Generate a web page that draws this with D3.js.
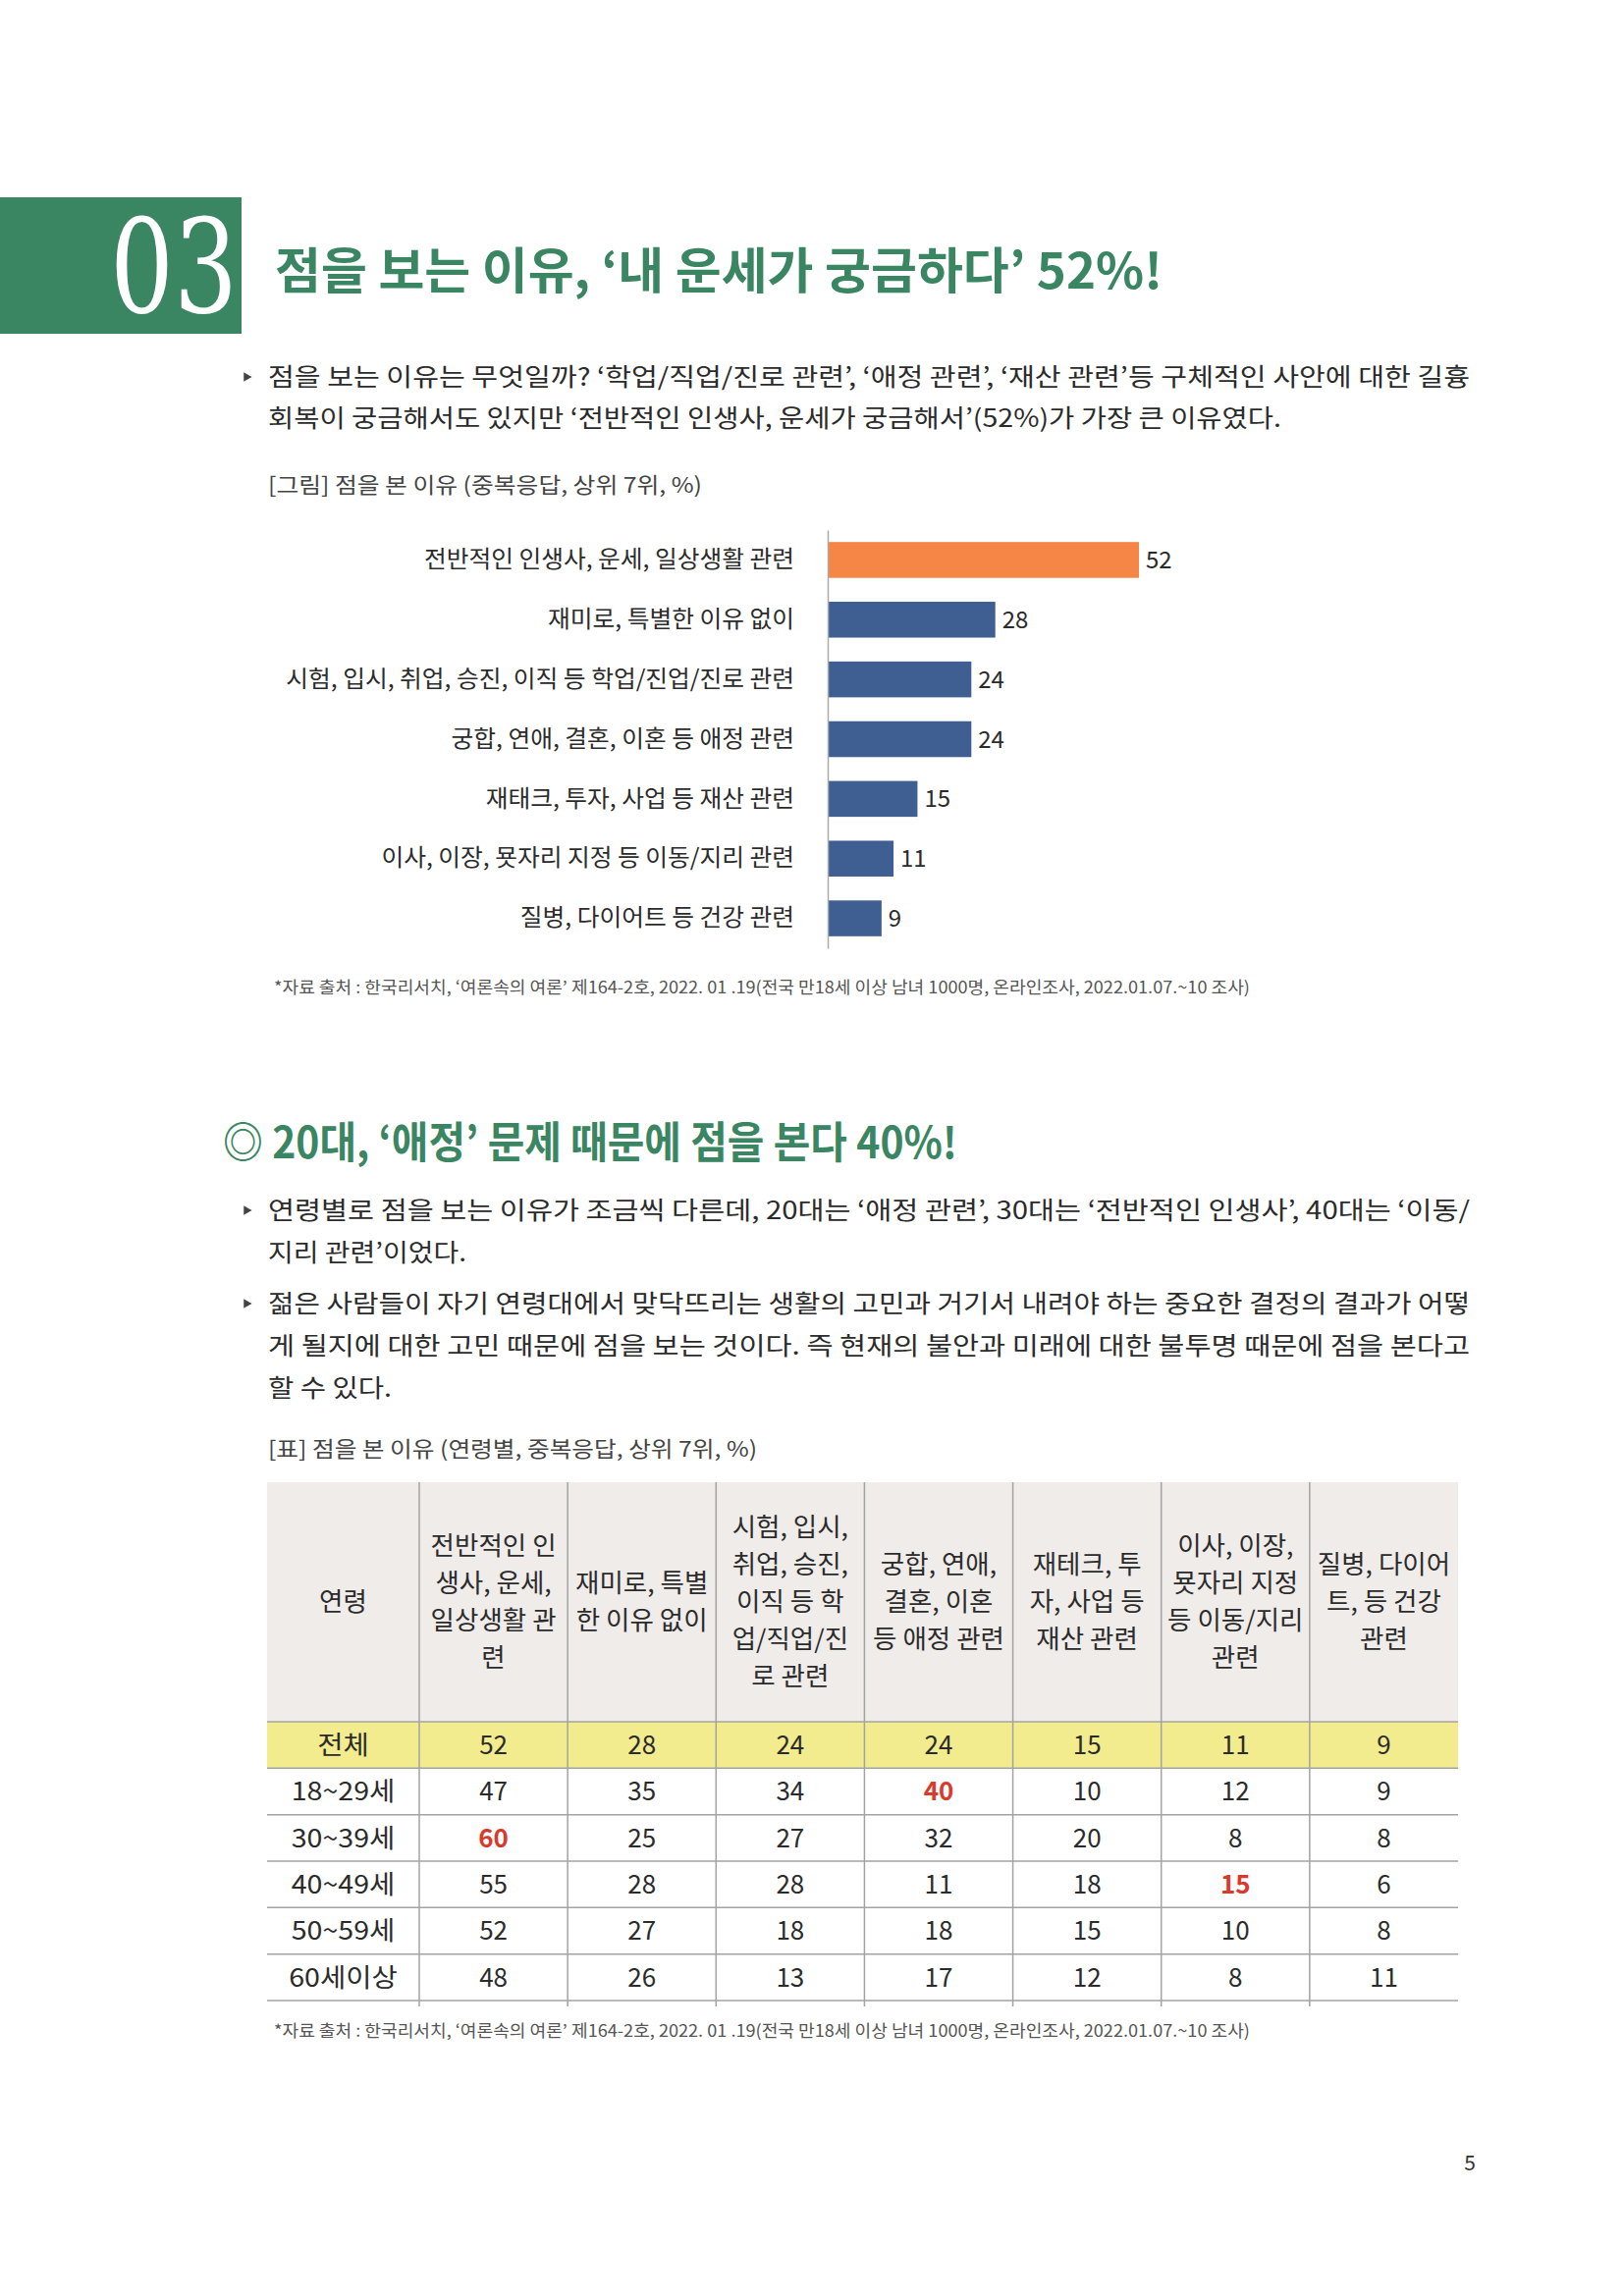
<!DOCTYPE html>
<html>
<head>
<meta charset="utf-8">
<script src="https://cdn.jsdelivr.net/npm/d3@7"></script>
<style>
body { margin: 0; background: #fff; }
svg { display: block; }
text { font-family: "Noto Sans CJK KR", "Noto Sans", sans-serif; }
</style>
</head>
<body>
<script>
// 그림: 점을 본 이유 (상위 7위)
const categories = [
    "전반적인 인생사, 운세, 일상생활 관련",
    "재미로, 특별한 이유 없이",
    "시험, 입시, 취업, 승진, 이직 등 학업/진업/진로 관련",
    "궁합, 연애, 결혼, 이혼 등 애정 관련",
    "재태크, 투자, 사업 등 재산 관련",
    "이사, 이장, 묫자리 지정 등 이동/지리 관련",
    "질병, 다이어트 등 건강 관련"
];
const values = [52, 28, 24, 24, 15, 11, 9];

// 표: 연령별
const headers = [
    ["연령"],
    ["전반적인 인", "생사, 운세,", "일상생활 관", "련"],
    ["재미로, 특별", "한 이유 없이"],
    ["시험, 입시,", "취업, 승진,", "이직 등 학", "업/직업/진", "로 관련"],
    ["궁합, 연애,", "결혼, 이혼", "등 애정 관련"],
    ["재테크, 투", "자, 사업 등", "재산 관련"],
    ["이사, 이장,", "묫자리 지정", "등 이동/지리", "관련"],
    ["질병, 다이어", "트, 등 건강", "관련"]
];
const ages = ["전체", "18~29세", "30~39세", "40~49세", "50~59세", "60세이상"];
const rows = [
    [52, 28, 24, 24, 15, 11, 9],
    [47, 35, 34, 40, 10, 12, 9],
    [60, 25, 27, 32, 20, 8, 8],
    [55, 28, 28, 11, 18, 15, 6],
    [52, 27, 18, 18, 15, 10, 8],
    [48, 26, 13, 17, 12, 8, 11]
];
const highlights = [[1, 3], [2, 0], [3, 5]];

const title1 = "점을 보는 이유, ‘내 운세가 궁금하다’ 52%!";
const para1 = [
    "점을 보는 이유는 무엇일까? ‘학업/직업/진로 관련’, ‘애정 관련’, ‘재산 관련’등 구체적인 사안에 대한 길흉",
    "회복이 궁금해서도 있지만 ‘전반적인 인생사, 운세가 궁금해서’(52%)가 가장 큰 이유였다."
];
const caption1 = "[그림] 점을 본 이유 (중복응답, 상위 7위, %)";
const source = "*자료 출처 : 한국리서치, ‘여론속의 여론’ 제164-2호, 2022. 01 .19(전국 만18세 이상 남녀 1000명, 온라인조사, 2022.01.07.~10 조사)";
const title2 = "◎ 20대, ‘애정’ 문제 때문에 점을 본다 40%!";
const para2a = [
    "연령별로 점을 보는 이유가 조금씩 다른데, 20대는 ‘애정 관련’, 30대는 ‘전반적인 인생사’, 40대는 ‘이동/",
    "지리 관련’이었다."
];
const para2b = [
    "젊은 사람들이 자기 연령대에서 맞닥뜨리는 생활의 고민과 거기서 내려야 하는 중요한 결정의 결과가 어떻",
    "게 될지에 대한 고민 때문에 점을 보는 것이다. 즉 현재의 불안과 미래에 대한 불투명 때문에 점을 본다고",
    "할 수 있다."
];
const caption2 = "[표] 점을 본 이유 (연령별, 중복응답, 상위 7위, %)";

const W = 1653, H = 2339;
const green = "#3b8662", ink = "#2b2b2b";

let svg = d3.select("body").append("svg")
    .attr("width", W).attr("height", H)
    .attr("viewBox", [0, 0, W, H]);

svg.append("rect").attr("width", W).attr("height", H).attr("fill", "#fff");

// stretch/condense text relative to its natural width (source font differs)
function squeeze(sel, k) {
    sel.each(function() {
        let w = this.getComputedTextLength();
        d3.select(this).attr("textLength", w * k).attr("lengthAdjust", "spacingAndGlyphs");
    });
    return sel;
}
function fit(sel, w) {
    return sel.attr("textLength", w).attr("lengthAdjust", "spacingAndGlyphs");
}

// ---- header block
svg.append("rect").attr("x", 0).attr("y", 201).attr("width", 246).attr("height", 139).attr("fill", green);
fit(svg.append("text")
    .attr("x", 112).attr("y", 318)
    .attr("fill", "#fff")
    .style("font-family", "'DejaVu Serif', serif")
    .style("font-weight", 200)
    .style("font-size", "132px")
    .text("03"), 130);

fit(svg.append("text")
    .attr("x", 280).attr("y", 294)
    .attr("fill", green)
    .style("font-weight", 700)
    .style("font-size", "50px")
    .text(title1), 904);

// ---- paragraph helper
function bullet(y) {
    svg.append("path")
        .attr("d", d3.symbol(d3.symbolTriangle, 40)())
        .attr("transform", `translate(251,${y - 9}) rotate(90)`)
        .attr("fill", "#444");
}
function lines(arr, y0, step, widths) {
    arr.forEach((t, i) => {
        let el = svg.append("text")
            .attr("x", 273).attr("y", y0 + i * step)
            .attr("fill", ink)
            .style("font-size", "25px")
            .text(t);
        fit(el, widths[i]);
    });
}

bullet(393);
lines(para1, 393, 42, [1224, 1032]);

let cap1 = svg.append("text")
    .attr("x", 273).attr("y", 502)
    .attr("fill", "#444")
    .style("font-size", "22px")
    .text(caption1);
fit(cap1, 442);

// ---- bar chart
let y = d3.scaleBand()
    .domain(categories)
    .range([540, 966])
    .paddingInner(0.4)
    .paddingOuter(0.2);

let x = d3.scaleLinear()
    .domain([0, 52])
    .range([843, 1160]);

svg.append("g").selectAll("rect")
    .data(values)
    .join("rect")
    .attr("x", x(0))
    .attr("y", (d, i) => y(categories[i]))
    .attr("width", d => x(d) - x(0))
    .attr("height", y.bandwidth())
    .attr("fill", (d, i) => i === 0 ? "#f58645" : "#3f5f93");

let yAxis = svg.append("g")
    .attr("transform", `translate(${x(0)},0)`)
    .call(d3.axisLeft(y).tickSize(0).tickPadding(34));
yAxis.select(".domain").attr("stroke", "#aaa").attr("stroke-width", 1.5);
yAxis.selectAll("text")
    .attr("fill", ink)
    .style("font-size", "24px")
    .style("font-family", "'Noto Sans CJK KR', sans-serif");
squeeze(yAxis.selectAll("text"), 1.03);

svg.append("g").selectAll("text")
    .data(values)
    .join("text")
    .attr("x", d => x(d) + 7)
    .attr("y", (d, i) => y(categories[i]) + y.bandwidth() / 2)
    .attr("dy", "0.36em")
    .attr("fill", ink)
    .style("font-size", "24px")
    .text(d => d);

fit(svg.append("text")
    .attr("x", 279).attr("y", 1012)
    .attr("fill", "#555")
    .style("font-size", "17px")
    .text(source), 994);

// ---- section 2
fit(svg.append("text")
    .attr("x", 227).attr("y", 1180)
    .attr("fill", green)
    .style("font-weight", 700)
    .style("font-size", "44px")
    .text(title2), 748);

bullet(1242);
lines(para2a, 1242, 43, [1224, 202]);
bullet(1337);
lines(para2b, 1337, 43, [1224, 1224, 126]);

fit(svg.append("text")
    .attr("x", 273).attr("y", 1484)
    .attr("fill", "#444")
    .style("font-size", "22px")
    .text(caption2), 498);

// ---- table
const tLeft = 272, tRight = 1485, firstCol = 427;
const headTop = 1510, headBottom = 1754, tBottom = 2038;

let colX = d3.scaleBand().domain(d3.range(7)).range([firstCol, tRight]);
let rowY = d3.scaleBand().domain(ages).range([headBottom, tBottom]);
let colCenter = j => j < 0 ? (tLeft + firstCol) / 2 : colX(j) + colX.bandwidth() / 2;

svg.append("rect")
    .attr("x", tLeft).attr("y", headTop)
    .attr("width", tRight - tLeft).attr("height", headBottom - headTop)
    .attr("fill", "#efecea");
svg.append("rect")
    .attr("x", tLeft).attr("y", rowY(ages[0]))
    .attr("width", tRight - tLeft).attr("height", rowY.bandwidth())
    .attr("fill", "#f2ec8e");

// header text
let headMid = (headTop + headBottom) / 2;
headers.forEach((hl, j) => {
    let cx = colCenter(j - 1);
    let t = svg.append("text")
        .attr("text-anchor", "middle")
        .attr("fill", ink)
        .style("font-size", "26px");
    hl.forEach((s, k) => {
        t.append("tspan")
            .attr("x", cx)
            .attr("y", headMid + (k - (hl.length - 1) / 2) * 38)
            .attr("dy", "0.36em")
            .text(s);
    });
    t.selectAll("tspan").each(function() {
        let w = this.getComputedTextLength();
        d3.select(this).attr("textLength", Math.min(w * 1.02, colX.bandwidth() - 8)).attr("lengthAdjust", "spacingAndGlyphs");
    });
});

// lines
let grid = svg.append("g").attr("stroke", "#a3a3a3").attr("stroke-width", 1.5);
grid.selectAll(".h")
    .data(ages.map(a => rowY(a)).concat([tBottom]))
    .join("line")
    .attr("x1", tLeft).attr("x2", tRight)
    .attr("y1", d => d).attr("y2", d => d);
grid.selectAll(".v")
    .data(d3.range(7).map(j => colX(j)))
    .join("line")
    .attr("x1", d => d).attr("x2", d => d)
    .attr("y1", headTop).attr("y2", tBottom + 6);

// body
ages.forEach((a, i) => {
    let cy = rowY(a) + rowY.bandwidth() / 2;
    let lab = svg.append("text")
        .attr("x", colCenter(-1)).attr("y", cy).attr("dy", "0.36em")
        .attr("text-anchor", "middle")
        .attr("fill", ink)
        .style("font-size", "26px")
        .text(a);
    squeeze(lab, 1.1);
    rows[i].forEach((v, j) => {
        let hot = highlights.some(h => h[0] === i && h[1] === j);
        svg.append("text")
            .attr("x", colCenter(j)).attr("y", cy).attr("dy", "0.36em")
            .attr("text-anchor", "middle")
            .attr("fill", hot ? "#d93a2b" : ink)
            .style("font-size", "26px")
            .style("font-weight", hot ? 700 : 400)
            .text(v);
    });
});

fit(svg.append("text")
    .attr("x", 279).attr("y", 2075)
    .attr("fill", "#555")
    .style("font-size", "17px")
    .text(source), 994);

svg.append("text")
    .attr("x", 1497).attr("y", 2211)
    .attr("text-anchor", "middle")
    .attr("fill", "#333")
    .style("font-size", "21px")
    .text("5");
</script>
</body>
</html>
